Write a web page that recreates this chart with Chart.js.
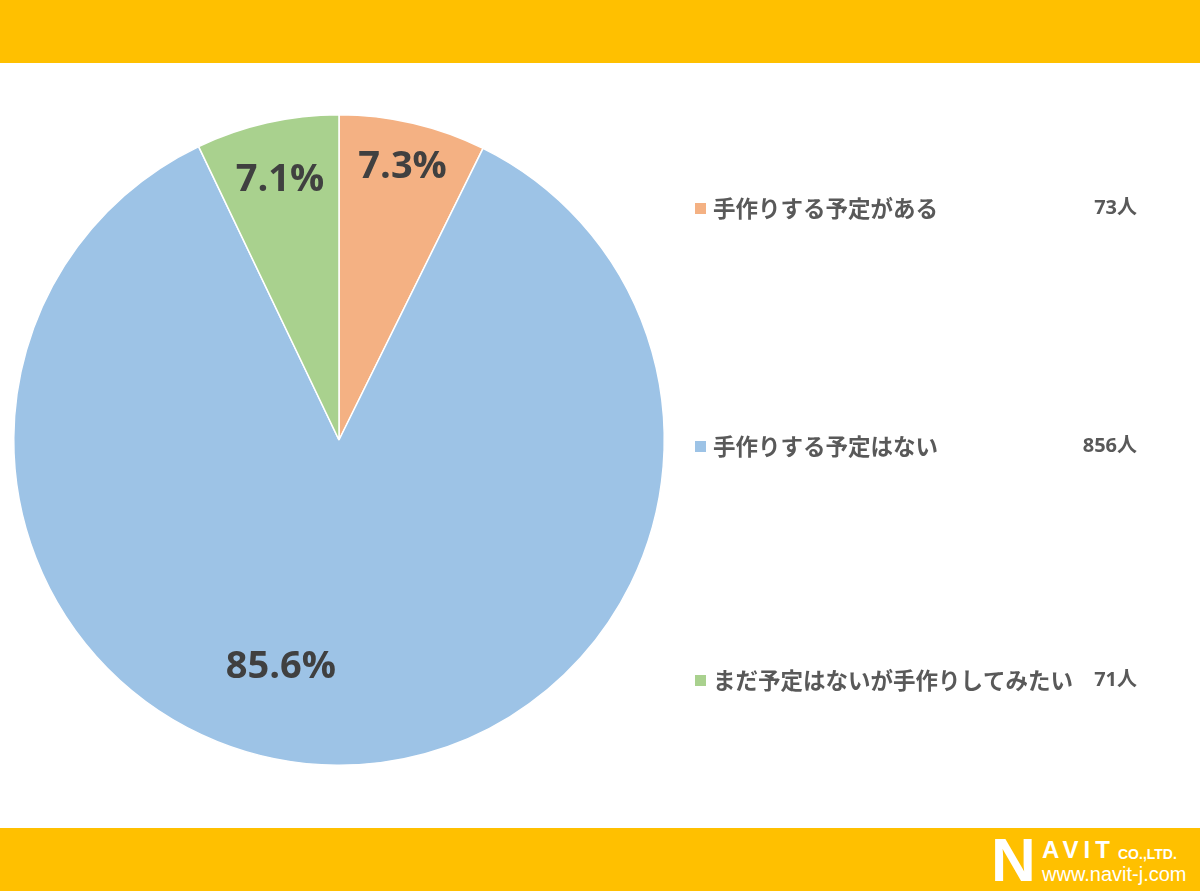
<!DOCTYPE html>
<html><head><meta charset="utf-8">
<script src="https://cdn.jsdelivr.net/npm/chart.js@4/dist/chart.umd.min.js"></script>
<style>
html,body{margin:0;padding:0;background:#fff;}
#wrap{position:relative;width:1200px;height:894px;overflow:hidden;background:#fff;}
#top{position:absolute;left:0;top:0;width:1200px;height:63px;background:#FFC000;}
#bot{position:absolute;left:0;top:828px;width:1200px;height:63px;background:#FFC000;}
#logo{position:absolute;left:990px;top:830px;width:210px;height:60px;color:#fff;font-family:"Liberation Sans",Arial,sans-serif;}
#logo .n{position:absolute;left:1px;top:2px;font-size:62px;font-weight:bold;line-height:56px;}
#logo .avit{position:absolute;left:52px;top:6px;font-size:24px;font-weight:bold;letter-spacing:5px;}
#logo .co{position:absolute;left:128px;top:16px;font-size:14px;font-weight:bold;}
#logo .url{position:absolute;left:52px;top:33px;font-size:20px;}
canvas{position:absolute;left:0;top:0;}
</style></head>
<body><div id="wrap">
<div id="top"></div><div id="bot"></div>
<div id="logo"><span class="n">N</span><span class="avit">AVIT</span><span class="co">CO.,LTD.</span><span class="url">www.navit-j.com</span></div>
<canvas id="c" width="1200" height="894"></canvas>
</div>
<script>
const categories = ["手作りする予定がある", "手作りする予定はない", "まだ予定はないが手作りしてみたい"];
const counts = [73, 856, 71];
const countLabels = ["73人", "856人", "71人"];
const percentLabels = ["7.3%", "85.6%", "7.1%"];
const colors = ["#F4B183", "#9DC3E6", "#A9D18E"];
// label placement: radial fraction, angle shift (deg)
const labelRadius = [0.86, 0.72, 0.82];
const labelShift = [0, 14, 0];
const legendY = [208, 446, 680];

const labelPlugin = {
  id: 'pctLabels',
  afterDatasetsDraw(chart) {
    const ctx = chart.ctx;
    const meta = chart.getDatasetMeta(0);
    ctx.save();
    ctx.font = 'bold 38px "Open Sans", "DejaVu Sans", sans-serif';
    ctx.fillStyle = '#404040';
    ctx.textAlign = 'center';
    ctx.textBaseline = 'middle';
    meta.data.forEach((arc, i) => {
      const p = arc.getProps(['x','y','startAngle','endAngle','outerRadius'], true);
      const a = (p.startAngle + p.endAngle) / 2 + labelShift[i] * Math.PI / 180;
      const r = p.outerRadius * labelRadius[i];
      ctx.fillText(percentLabels[i], p.x + Math.cos(a) * r, p.y + Math.sin(a) * r);
    });
    ctx.restore();
  }
};

const legendPlugin = {
  id: 'sideLegend',
  afterDraw(chart) {
    const ctx = chart.ctx;
    ctx.save();
    ctx.textBaseline = 'middle';
    categories.forEach((c, i) => {
      const y = legendY[i];
      ctx.fillStyle = colors[i];
      ctx.fillRect(695, y - 5, 11, 11);
      ctx.fillStyle = '#595959';
      ctx.font = 'bold 22.5px "Noto Sans CJK JP", sans-serif';
      ctx.textAlign = 'left';
      ctx.fillText(c, 713, y);
      ctx.textAlign = 'right';
      ctx.font = 'bold 20px "Open Sans", "Noto Sans CJK JP", sans-serif';
      ctx.fillText(countLabels[i], 1137, y);
    });
    ctx.restore();
  }
};

new Chart(document.getElementById('c'), {
  type: 'pie',
  data: {
    labels: categories,
    datasets: [{
      data: counts,
      backgroundColor: colors,
      borderColor: '#ffffff',
      borderWidth: 1.5
    }]
  },
  options: {
    responsive: false,
    animation: false,
    layout: { padding: { left: 13, top: 114, right: 535, bottom: 128 } },
    plugins: { legend: { display: false }, tooltip: { enabled: false } }
  },
  plugins: [labelPlugin, legendPlugin]
});
</script>
</body></html>
